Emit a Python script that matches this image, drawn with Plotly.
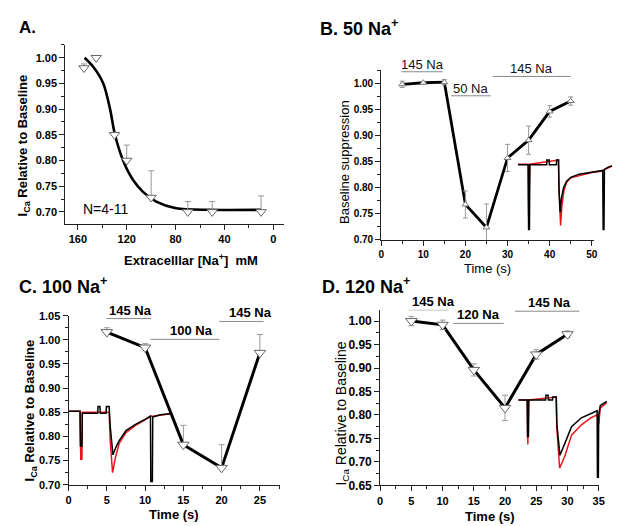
import plotly.graph_objects as go

W, H = 620, 526
FONT = "Liberation Sans, Arial, sans-serif"

# ---------------- data ----------------
# Panel A: dose-response
A_na = [155, 145, 130, 120, 100, 70, 50, 10]
A_val = [0.980, 1.000, 0.850, 0.800, 0.728, 0.700, 0.700, 0.700]
A_err = [0.008, 0.000, 0.005, 0.030, 0.052, 0.020, 0.020, 0.031]
A_fit_na = [154.5, 147.3, 139.2, 133.8, 129.7, 123.0, 114.8, 106.7, 95.8, 79.6, 52.5, 10.0]
A_fit_val = [1.000, 0.982, 0.950, 0.902, 0.851, 0.800, 0.762, 0.739, 0.720, 0.707, 0.704, 0.704]

# Panel B: 50 Na
B_t = [5, 10, 15, 20, 25, 30, 35, 40, 45]
B_val = [0.998, 1.001, 1.002, 0.768, 0.724, 0.857, 0.891, 0.946, 0.966]
B_err = [0.006, 0.002, 0.005, 0.026, 0.045, 0.026, 0.027, 0.011, 0.008]
B_bar_label = ["145 Na", "50 Na", "145 Na"]
B_bar_start = [4.8, 16.6, 26.5]
B_bar_end = [14.6, 26.0, 45.0]
B_bar_y = [1.022, 0.976, 1.013]

# Panel C: 100 Na
C_t = [5, 10, 15, 20, 25]
C_val = [1.016, 0.984, 0.783, 0.735, 0.973]
C_err = [0.009, 0.008, 0.040, 0.048, 0.038]
C_bar_label = ["145 Na", "100 Na", "145 Na"]
C_bar_start = [4.95, 10.7, 19.7]
C_bar_end = [10.8, 19.7, 25.5]
C_bar_y = [1.044, 1.001, 1.038]
C_label_x = [8.1, 16.0, 23.8]

# Panel D: 120 Na
D_t = [5, 10, 15, 20, 25, 30]
D_val = [1.000, 0.992, 0.896, 0.815, 0.929, 0.972]
D_err = [0.010, 0.010, 0.013, 0.027, 0.010, 0.007]
D_bar_label = ["145 Na", "120 Na", "145 Na"]
D_bar_start = [4.6, 11.7, 21.6]
D_bar_end = [10.9, 19.8, 31.9]
D_bar_y = [1.024, 0.995, 1.021]
D_label_x = [8.57, 15.7, 27.07]

# Inset current traces (in host panel units)
IB_t_blk = [32.5, 34.9, 35.0, 35.2, 35.3, 39.3, 39.35, 39.9, 39.95, 41.6, 41.65, 42.1, 42.2, 42.5, 42.8, 43.3, 44.0, 45.0, 47.0, 50.0, 52.6, 52.7, 52.9, 53.0, 54.0, 55.0]
IB_v_blk = [0.844, 0.844, 0.720, 0.720, 0.844, 0.844, 0.853, 0.853, 0.844, 0.844, 0.853, 0.853, 0.800, 0.753, 0.780, 0.800, 0.812, 0.820, 0.826, 0.830, 0.833, 0.720, 0.720, 0.835, 0.840, 0.842]
IB_t_red = [32.5, 34.9, 35.0, 35.3, 42.1, 42.25, 42.6, 42.9, 43.4, 44.0, 45.0, 50.0, 52.6, 53.0, 55.0]
IB_v_red = [0.845, 0.845, 0.745, 0.845, 0.853, 0.790, 0.728, 0.765, 0.795, 0.810, 0.819, 0.829, 0.832, 0.835, 0.842]

IC_t_blk = [0.0, 1.5, 1.55, 1.75, 1.8, 3.8, 3.85, 4.1, 4.15, 4.9, 4.95, 5.3, 5.45, 5.8, 6.2, 6.6, 7.5, 8.75, 10.05, 10.7, 10.75, 10.95, 11.0, 12.0, 13.3]
IC_v_blk = [0.852, 0.852, 0.780, 0.780, 0.848, 0.848, 0.862, 0.862, 0.848, 0.848, 0.862, 0.862, 0.820, 0.762, 0.778, 0.791, 0.812, 0.825, 0.836, 0.842, 0.707, 0.707, 0.840, 0.845, 0.847]
IC_t_red = [0.0, 1.5, 1.6, 1.75, 1.8, 5.3, 5.45, 5.75, 6.1, 6.6, 7.5, 8.75, 10.05, 10.7, 11.0, 13.3]
IC_v_red = [0.852, 0.852, 0.753, 0.753, 0.850, 0.850, 0.790, 0.725, 0.755, 0.785, 0.808, 0.823, 0.835, 0.842, 0.842, 0.847]

ID_t_blk = [22.15, 23.55, 23.6, 23.75, 23.8, 26.5, 26.55, 26.9, 26.95, 27.6, 27.65, 28.2, 28.3, 28.8, 29.6, 30.65, 32.24, 33.8, 34.75, 34.8, 34.95, 35.0, 35.26, 36.3]
ID_v_blk = [0.832, 0.832, 0.754, 0.754, 0.832, 0.832, 0.842, 0.842, 0.832, 0.832, 0.838, 0.838, 0.780, 0.714, 0.740, 0.775, 0.794, 0.804, 0.809, 0.667, 0.667, 0.800, 0.820, 0.829]
ID_t_red = [22.15, 23.55, 23.65, 23.8, 28.2, 28.3, 28.75, 29.6, 30.65, 32.24, 33.8, 34.75, 35.0, 35.26, 36.3]
ID_v_red = [0.832, 0.832, 0.737, 0.832, 0.838, 0.770, 0.687, 0.713, 0.757, 0.779, 0.794, 0.800, 0.780, 0.815, 0.826]


# ---------------- helpers ----------------
def fx(px):
    return px / W


def fy(py):
    return 1 - py / H


GRAY = "#8a8a8a"
AX = "#222"

fig = go.Figure()

# Panel A
fig.add_trace(go.Scatter(x=A_fit_na, y=A_fit_val, mode="lines", line=dict(color="black", width=2.6, shape="spline", smoothing=0.8),
                         xaxis="x", yaxis="y", hoverinfo="skip"))
fig.add_trace(go.Scatter(x=A_na, y=A_val, mode="markers",
                         marker=dict(symbol="triangle-down", size=9, color="white", line=dict(color="#666", width=1)),
                         error_y=dict(type="data", array=A_err, arrayminus=[0] * len(A_err), symmetric=False, color="#999", thickness=1, width=3),
                         xaxis="x", yaxis="y"))

# Panel B
for s, e, yv in zip(B_bar_start, B_bar_end, B_bar_y):
    fig.add_trace(go.Scatter(x=[s, e], y=[yv, yv], mode="lines", line=dict(color=GRAY, width=1), xaxis="x2", yaxis="y2"))
fig.add_trace(go.Scatter(x=B_t, y=B_val, mode="lines", line=dict(color="black", width=2.8), xaxis="x2", yaxis="y2"))
fig.add_trace(go.Scatter(x=B_t, y=B_val, mode="markers",
                         marker=dict(symbol="triangle-up", size=6, color="white", line=dict(color="#777", width=1)),
                         error_y=dict(type="data", array=B_err, color="#999", thickness=1, width=2.5),
                         xaxis="x2", yaxis="y2"))
fig.add_trace(go.Scatter(x=IB_t_red, y=IB_v_red, mode="lines", line=dict(color="#e8141c", width=1.5), xaxis="x5", yaxis="y5"))
fig.add_trace(go.Scatter(x=IB_t_blk, y=IB_v_blk, mode="lines", line=dict(color="black", width=1.5), xaxis="x5", yaxis="y5"))

# Panel C
for s, e, yv in zip(C_bar_start, C_bar_end, C_bar_y):
    fig.add_trace(go.Scatter(x=[s, e], y=[yv, yv], mode="lines", line=dict(color=GRAY, width=1), xaxis="x3", yaxis="y3"))
fig.add_trace(go.Scatter(x=IC_t_red, y=IC_v_red, mode="lines", line=dict(color="#e8141c", width=1.5), xaxis="x3", yaxis="y3"))
fig.add_trace(go.Scatter(x=IC_t_blk, y=IC_v_blk, mode="lines", line=dict(color="black", width=1.5), xaxis="x3", yaxis="y3"))
fig.add_trace(go.Scatter(x=C_t, y=C_val, mode="lines", line=dict(color="black", width=3), xaxis="x3", yaxis="y3"))
fig.add_trace(go.Scatter(x=C_t, y=C_val, mode="markers",
                         marker=dict(symbol="triangle-down", size=10, color="white", line=dict(color="#666", width=1)),
                         error_y=dict(type="data", array=C_err, arrayminus=[0] * len(C_err), symmetric=False, color="#999", thickness=1, width=3),
                         xaxis="x3", yaxis="y3"))

# Panel D
for s, e, yv in zip(D_bar_start, D_bar_end, D_bar_y):
    fig.add_trace(go.Scatter(x=[s, e], y=[yv, yv], mode="lines", line=dict(color=GRAY, width=1), xaxis="x4", yaxis="y4"))
fig.add_trace(go.Scatter(x=ID_t_red, y=ID_v_red, mode="lines", line=dict(color="#e8141c", width=1.5), xaxis="x6", yaxis="y6"))
fig.add_trace(go.Scatter(x=ID_t_blk, y=ID_v_blk, mode="lines", line=dict(color="black", width=1.5), xaxis="x6", yaxis="y6"))
fig.add_trace(go.Scatter(x=D_t, y=D_val, mode="lines", line=dict(color="black", width=3), xaxis="x4", yaxis="y4"))
fig.add_trace(go.Scatter(x=D_t, y=D_val, mode="markers",
                         marker=dict(symbol="triangle-down", size=10, color="white", line=dict(color="#666", width=1)),
                         error_y=dict(type="data", array=D_err, color="#999", thickness=1, width=3),
                         xaxis="x4", yaxis="y4"))


def axis(domain, rng, anchor, dtick, minor, size, fmt=None, tickvals=None):
    d = dict(domain=domain, range=rng, anchor=anchor, showgrid=False, zeroline=False,
             showline=True, linecolor=AX, linewidth=1, ticks="outside", ticklen=5, tickwidth=1, tickcolor=AX,
             tickfont=dict(family=FONT, size=size, color="black", weight="bold"),
             minor=dict(dtick=minor, ticks="outside", ticklen=3, tickcolor=AX, showgrid=False),
             fixedrange=True)
    if tickvals is not None:
        d["tickmode"] = "array"
        d["tickvals"] = tickvals
    else:
        d["dtick"] = dtick
        d["tick0"] = 0
    if fmt:
        d["tickformat"] = fmt
    return d


hidden = dict(visible=False, showgrid=False, zeroline=False, fixedrange=True)

layout = dict(
    width=W, height=H, margin=dict(l=0, r=0, t=0, b=0),
    paper_bgcolor="white", plot_bgcolor="rgba(0,0,0,0)", showlegend=False,
    font=dict(family=FONT, color="black"),
    xaxis=axis([fx(55), fx(277)], [170.3, -9.1], "y", 40, 20, 11, tickvals=[0, 40, 80, 120, 160]),
    yaxis=axis([fy(215), fy(31.7)], [0.677, 1.025], "x", 0.05, 0.025, 11, ".2f"),
    xaxis2=axis([fx(375), fx(590.5)], [0, 50.5], "y2", 10, 5, 10),
    yaxis2=axis([fy(231.7), fy(57.3)], [0.70, 1.0256], "x2", 0.05, 0.025, 10, ".2f"),
    xaxis3=axis([fx(58.3), fx(272.3)], [0, 27.6], "y3", 5, 2.5, 11),
    yaxis3=axis([fy(482.7), fy(309.3)], [0.70, 1.05], "x3", 0.05, 0.025, 11, ".2f"),
    xaxis4=axis([fx(374), fx(596)], [0, 35.1], "y4", 5, 2.5, 11),
    yaxis4=axis([fy(483.3), fy(303.3)], [0.65, 1.024], "x4", 0.05, 0.025, 12, ".2f"),
    xaxis5=dict(hidden, domain=[fx(375), fx(615)], range=[0, (615 - 375) / (215.5 / 50.5)], anchor="y5"),
    yaxis5=dict(hidden, domain=[fy(231.7), fy(57.3)], range=[0.70, 1.0256], anchor="x5"),
    xaxis6=dict(hidden, domain=[fx(374), fx(615)], range=[0, (615 - 374) / (222 / 35.1)], anchor="y6"),
    yaxis6=dict(hidden, domain=[fy(483.3), fy(303.3)], range=[0.65, 1.024], anchor="x6"),
)
fig.update_layout(**layout)

ann = []


def txt(text, px, py, size, bold=True, angle=0, xanchor="center"):
    ann.append(dict(text=text, x=fx(px), y=fy(py), xref="paper", yref="paper", showarrow=False,
                    xanchor=xanchor, yanchor="middle", textangle=angle,
                    font=dict(family=FONT, size=size, color="black", weight="bold" if bold else "normal")))


# panel titles
txt("A.", 6, 14, 17, xanchor="left")
txt("B. 50 Na<sup>+</sup>", 311, 14, 18, xanchor="left")
txt("C. 100 Na<sup>+</sup>", 6, 278, 18, xanchor="left")
txt("D. 120 Na<sup>+</sup>", 313, 278, 18, xanchor="left")

# axis titles
txt("I<sub>Ca</sub> Relative to Baseline", 13, 135, 13, angle=-90)
txt("Extracelllar [Na<sup>+</sup>]  mM", 182, 252, 13)
txt("Baseline suppression", 338, 152, 13, bold=False, angle=-90)
txt("Time (s)", 483, 261, 13, bold=False)
txt("I<sub>Ca</sub> Relative to Baseline", 20.7, 406, 13, angle=-90)
txt("Time (s)", 165, 513, 13)
txt("I<sub>Ca</sub> Relative to Baseline", 335, 410, 14, bold=False, angle=-90)
txt("Time (s)", 485, 515, 13)

# N label in panel A
ann.append(dict(text="N=4-11", x=137.5, y=0.705, xref="x", yref="y", showarrow=False,
                font=dict(family=FONT, size=14, color="black")))

# bar labels
for lab, s, e, yv in zip(B_bar_label, B_bar_start, B_bar_end, B_bar_y):
    ann.append(dict(text=lab, x=(s + e) / 2, y=yv, xref="x2", yref="y2", showarrow=False, yanchor="bottom", yshift=-2,
                    font=dict(family=FONT, size=13, color="#111")))
for lab, lx, yv in zip(C_bar_label, C_label_x, C_bar_y):
    ann.append(dict(text=lab, x=lx, y=yv, xref="x3", yref="y3", showarrow=False, yanchor="bottom", yshift=-1,
                    font=dict(family=FONT, size=13, color="black", weight="bold")))
for lab, lx, yv in zip(D_bar_label, D_label_x, D_bar_y):
    ann.append(dict(text=lab, x=lx, y=yv, xref="x4", yref="y4", showarrow=False, yanchor="bottom", yshift=-1,
                    font=dict(family=FONT, size=13, color="black", weight="bold")))

fig.update_layout(annotations=ann)
fig.write_html("out.html")
